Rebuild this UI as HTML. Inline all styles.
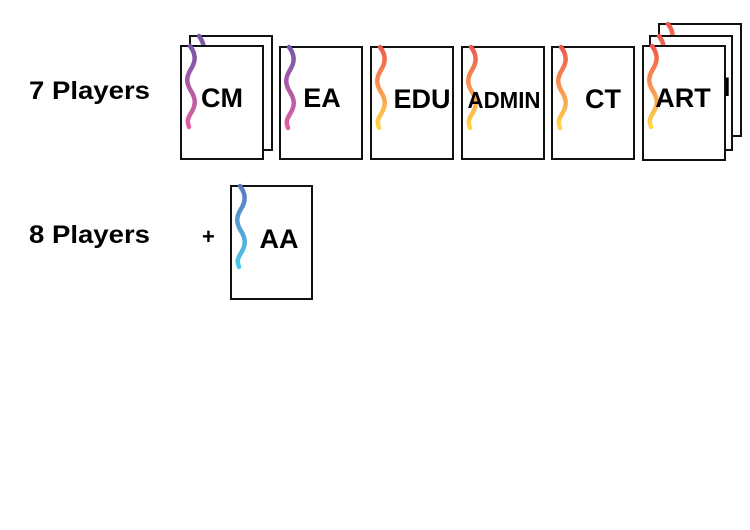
<!DOCTYPE html>
<html><head><meta charset="utf-8"><style>
html,body{margin:0;padding:0;background:#fff;width:750px;height:530px;overflow:hidden}
text{font-family:"Liberation Sans","DejaVu Sans",sans-serif;font-weight:bold;fill:#000}
</style></head><body>
<svg width="750" height="530" viewBox="0 0 750 530" xmlns="http://www.w3.org/2000/svg">
<defs>
<linearGradient id="gp" x1="0" y1="0" x2="0" y2="1"><stop offset="0" stop-color="#7657a8"/><stop offset="1" stop-color="#e05fa2"/></linearGradient>
<linearGradient id="go" x1="0" y1="0" x2="0" y2="1"><stop offset="0" stop-color="#ee5a4e"/><stop offset="0.5" stop-color="#f8944f"/><stop offset="1" stop-color="#ffd54a"/></linearGradient>
<linearGradient id="gb" x1="0" y1="0" x2="0" y2="1"><stop offset="0" stop-color="#5a78bf"/><stop offset="1" stop-color="#4cc8ea"/></linearGradient>
<path id="w" d="M9,0 C15,8 15,15 10,23 S5,37 10,45 S15,59 10,67 S7,77 8,81" fill="none" stroke-width="4.5" stroke-linecap="round"/>
</defs>
<text x="29" y="99" font-size="25" textLength="121" lengthAdjust="spacingAndGlyphs">7 Players</text>
<text x="29" y="243" font-size="25" textLength="121" lengthAdjust="spacingAndGlyphs">8 Players</text>
<text x="202" y="244" font-size="22">+</text>

<g transform="translate(190,36)"><rect width="82" height="114" fill="#fff" stroke="#111" stroke-width="2"/><use href="#w" stroke="url(#gp)"/></g>
<g transform="translate(181,46)"><rect width="82" height="113" fill="#fff" stroke="#111" stroke-width="2"/><use href="#w" stroke="url(#gp)"/><text x="41" y="61" font-size="27" text-anchor="middle">CM</text></g>
<g transform="translate(280,47)"><rect width="82" height="112" fill="#fff" stroke="#111" stroke-width="2"/><use href="#w" stroke="url(#gp)"/><text x="42" y="60" font-size="27" text-anchor="middle">EA</text></g>
<g transform="translate(371,47)"><rect width="82" height="112" fill="#fff" stroke="#111" stroke-width="2"/><use href="#w" stroke="url(#go)"/><text x="51" y="61" font-size="27" text-anchor="middle">EDU</text></g>
<g transform="translate(462,47)"><rect width="82" height="112" fill="#fff" stroke="#111" stroke-width="2"/><use href="#w" stroke="url(#go)"/><text x="42" y="61" font-size="23" text-anchor="middle" textLength="73" lengthAdjust="spacingAndGlyphs">ADMIN</text></g>
<g transform="translate(552,47)"><rect width="82" height="112" fill="#fff" stroke="#111" stroke-width="2"/><use href="#w" stroke="url(#go)"/><text x="51" y="61" font-size="27" text-anchor="middle">CT</text></g>
<g transform="translate(659,24)"><rect width="82" height="112" fill="#fff" stroke="#111" stroke-width="2"/><use href="#w" stroke="url(#go)"/></g>
<g transform="translate(650,36)"><rect width="82" height="114" fill="#fff" stroke="#111" stroke-width="2"/><use href="#w" stroke="url(#go)"/><text x="73" y="60" font-size="27">I</text></g>
<g transform="translate(643,46)"><rect width="82" height="114" fill="#fff" stroke="#111" stroke-width="2"/><use href="#w" stroke="url(#go)"/><text x="40" y="61" font-size="27" text-anchor="middle">ART</text></g>
<g transform="translate(231,186)"><rect width="81" height="113" fill="#fff" stroke="#111" stroke-width="2"/><use href="#w" stroke="url(#gb)"/><text x="48" y="62" font-size="27" text-anchor="middle">AA</text></g>
</svg>
</body></html>
